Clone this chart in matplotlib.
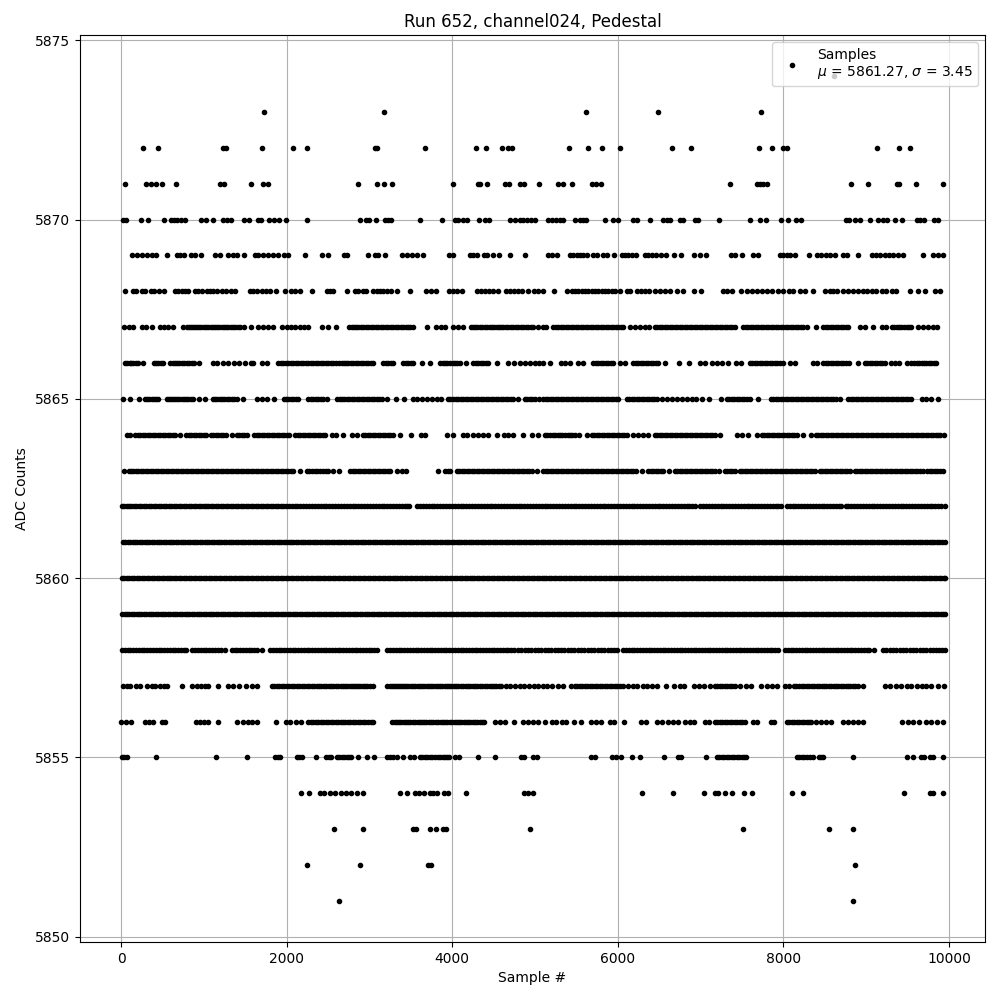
import matplotlib
matplotlib.use("Agg")
import matplotlib.pyplot as plt

# sample numbers, one list per ADC level
s5851 = [2636, 8843]
s5852 = [2250, 2890, 3703, 3743, 8867]
s5853 = [2576, 2926, 3522, 3562, 3731, 3800, 3884, 3924, 4943, 7515, 8553, 8843]
s5854 = [2178, 2274, 2403, 2451, 2524, 2584, 2653, 2717, 2773, 2854, 2926, 3373, 3457, 3550, 3602, 3659, 3731, 3763, 3820, 3900, 3952, 4170,
         4866, 4918, 4971, 6287, 6670, 7044, 7173, 7213, 7289, 7382, 7527, 7616, 8106, 8239, 9459, 9768, 9809, 9930]
s5855 = [12, 76, 427, 1151, 1521, 1860, 1920, 2121, 2181, 2355, 2475, 2532, 2604, 2665, 2725, 2773, 2866, 2966, 3059, 3208, 3280, 3328, 3409,
         3490, 3542, 3610, 3670, 3731, 3791, 3852, 3912, 3965, 4033, 4085, 4315, 4520, 4826, 4866, 4979, 5027, 5675, 5724, 5925, 5977, 6033,
         6174, 6271, 6561, 6730, 6758, 7068, 7201, 7253, 7314, 7374, 7434, 7495, 7547, 8159, 8219, 8280, 8352, 8433, 8481, 8843, 9495, 9567,
         9656, 9700, 9769, 9809, 9926,
         40, 1890, 2150, 2505, 2635, 2695, 2750, 3250, 3640, 3700, 3761, 3822, 3882, 3940, 7227, 7284, 7344, 7404, 7465, 7521, 8189, 8250, 8316, 8457]
s5856 = [4, 60, 117, 290, 342, 390, 491, 535, 906, 954, 1002, 1050, 1175, 1405, 1469, 1538, 1586, 1646, 1868, 1988, 2041, 2113, 2170, 2262,
         2320, 2380, 2440, 2500, 2560, 2620, 2680, 2740, 2800, 2860, 2920, 2980, 3047, 3276, 3330, 3385, 3440, 3495, 3550, 3610, 3660, 3715,
         3770, 3830, 3885, 3940, 4000, 4055, 4110, 4165, 4220, 4275, 4330, 4383, 4516, 4576, 4637, 4749, 4858, 4918, 4979, 5039, 5120, 5200,
         5253, 5321, 5374, 5474, 5558, 5675, 5736, 5792, 5905, 5953, 6074, 6279, 6335, 6468, 6529, 6609, 6670, 6730, 6811, 6871, 6920, 7052,
         7104, 7173, 7233, 7294, 7354, 7414, 7475, 7535, 7627, 7676, 7845, 7889, 8038, 8099, 8159, 8219, 8280, 8328, 8392, 8449, 8514, 8574,
         8714, 8783, 8843, 8903, 8956, 9427, 9507, 9567, 9640, 9728, 9788, 9857, 9930,
         2291, 2350, 2410, 2470, 2530, 2590, 2650, 2710, 2770, 2830, 2890, 2950, 3013, 3303, 3358, 3413, 3468, 3522, 3580, 3635, 3688, 3743,
         3800, 3858, 3912, 3970, 4028, 4083, 4138, 4192, 4248, 4303, 4356, 7203, 7264, 7324, 7384, 7445, 7505, 8069, 8129, 8189, 8250, 8304]
s5857 = [20, 68, 109, 181, 230, 318, 370, 411, 471, 519, 559, 732, 853, 914, 962, 1014, 1055, 1175, 1296, 1348, 1429, 1509, 1586, 1638, 1819,
         1880, 1940, 2000, 2060, 2120, 2180, 2240, 2300, 2360, 2420, 2480, 2540, 2590, 2650, 2700, 2760, 2810, 2860, 2920, 2975, 3039, 3216,
         3270, 3320, 3370, 3420, 3470, 3530, 3580, 3630, 3690, 3740, 3800, 3850, 3910, 3960, 4020, 4075, 4130, 4190, 4250, 4300, 4360, 4420,
         4480, 4530, 4590, 4650, 4700, 4760, 4820, 4870, 4930, 4990, 5040, 5100, 5140, 5200, 5281, 5341, 5430, 5483, 5543, 5600, 5660, 5720,
         5780, 5840, 5900, 5960, 6020, 6065, 6126, 6186, 6234, 6307, 6355, 6408, 6468, 6581, 6681, 6749, 6802, 6918, 6983, 7040, 7112, 7173,
         7233, 7290, 7350, 7410, 7475, 7547, 7603, 7728, 7797, 7857, 7917, 8018, 8071, 8127, 8190, 8250, 8310, 8370, 8430, 8490, 8550, 8610,
         8662, 8720, 8780, 8840, 8900, 8963, 9225, 9285, 9358, 9426, 9487, 9547, 9608, 9668, 9728, 9788, 9869, 9942,
         1850, 1910, 1970, 2030, 2090, 2150, 2210, 2270, 2330, 2390, 2450, 2510, 2565, 2620, 2675, 2730, 2785, 2835, 2890, 2947, 3007, 3243,
         3295, 3345, 3395, 3445, 3500, 3555, 3605, 3660, 3715, 3770, 3825, 3880, 3935, 3990, 4048, 4102, 4160, 4220, 4275, 4330, 4390, 4450,
         4505, 4560, 5510, 5570, 5630, 5690, 5750, 5810, 5870, 5930, 5990, 7203, 7262, 7320, 7380, 8158, 8220, 8280, 8340, 8400, 8460, 8520,
         8580, 8640, 8690, 8750, 8810, 8870]
s5858 = [10, 44, 78, 112, 146, 180, 214, 248, 282, 316, 350, 384, 418, 452, 486, 520, 554, 588, 622, 656, 690, 724, 758, 785, 861, 895, 929,
         963, 997, 1031, 1065, 1099, 1133, 1167, 1210, 1256, 1336, 1370, 1404, 1438, 1472, 1506, 1540, 1574, 1608, 1642, 1698, 1799, 1833, 1867,
         1901, 1935, 1969, 2003, 2037, 2071, 2105, 2139, 2173, 2207, 2241, 2275, 2309, 2343, 2377, 2411, 2445, 2479, 2513, 2547, 2581, 2615,
         2649, 2683, 2717, 2751, 2785, 2819, 2853, 2887, 2921, 2955, 2989, 3023, 3057, 3095, 3216, 3250, 3284, 3318, 3352, 3386, 3420, 3454,
         3488, 3522, 3556, 3590, 3624, 3658, 3692, 3726, 3760, 3794, 3828, 3862, 3896, 3930, 3964, 3998, 4032, 4066, 4100, 4134, 4168, 4202,
         4236, 4270, 4304, 4338, 4372, 4406, 4440, 4474, 4508, 4542, 4576, 4610, 4644, 4678, 4712, 4750, 4795, 4835, 4875, 4915, 4955, 4995,
         5035, 5075, 5115, 5155, 5195, 5235, 5275, 5315, 5355, 5395, 5435, 5475, 5515, 5555, 5595, 5635, 5675, 5715, 5755, 5795, 5835, 5875,
         5915, 5955, 5995, 6065, 6099, 6133, 6167, 6201, 6235, 6269, 6303, 6337, 6371, 6405, 6439, 6473, 6507, 6541, 6575, 6609, 6643, 6677,
         6711, 6745, 6779, 6813, 6847, 6881, 6915, 6949, 6983, 7017, 7051, 7085, 7119, 7153, 7187, 7221, 7255, 7289, 7323, 7357, 7391, 7425,
         7459, 7493, 7527, 7561, 7595, 7629, 7663, 7697, 7731, 7765, 7799, 7833, 7867, 7901, 7938, 8018, 8052, 8086, 8120, 8154, 8188, 8222,
         8256, 8290, 8324, 8358, 8392, 8426, 8460, 8494, 8528, 8562, 8596, 8630, 8664, 8698, 8732, 8766, 8800, 8834, 8868, 8902, 8936, 8970,
         9004, 9035, 9092, 9205, 9245, 9285, 9325, 9365, 9405, 9445, 9485, 9525, 9565, 9605, 9645, 9685, 9725, 9765, 9805, 9845, 9885, 9918,
         9950]
s5859 = [12, 41, 70, 99, 128, 157, 186, 215, 244, 273, 302, 331, 360, 389, 418, 447, 476, 505, 534, 563, 592, 621, 650, 679, 708, 737, 766,
         795, 824, 853, 882, 911, 940, 969, 998, 1027, 1056, 1085, 1114, 1143, 1172, 1201, 1230, 1259, 1288, 1317, 1346, 1375, 1404, 1433, 1462,
         1491, 1520, 1549, 1578, 1607, 1636, 1665, 1694, 1723, 1752, 1781, 1810, 1839, 1868, 1897, 1926, 1955, 1984, 2013, 2042, 2071, 2100,
         2129, 2158, 2187, 2216, 2245, 2274, 2303, 2332, 2361, 2390, 2419, 2448, 2477, 2506, 2535, 2564, 2593, 2622, 2651, 2680, 2709, 2738,
         2767, 2796, 2825, 2854, 2883, 2912, 2941, 2970, 2999, 3028, 3057, 3086, 3115, 3144, 3173, 3202, 3231, 3260, 3289, 3318, 3347, 3376,
         3405, 3434, 3463, 3492, 3521, 3550, 3579, 3608, 3637, 3666, 3695, 3724, 3753, 3782, 3811, 3840, 3869, 3898, 3927, 3956, 3985, 4014,
         4043, 4072, 4101, 4130, 4159, 4188, 4217, 4246, 4275, 4304, 4333, 4362, 4391, 4420, 4449, 4478, 4507, 4536, 4565, 4594, 4623, 4652,
         4681, 4710, 4739, 4768, 4797, 4826, 4855, 4884, 4913, 4942, 4971, 5000, 5029, 5058, 5087, 5116, 5145, 5174, 5203, 5232, 5261, 5290,
         5319, 5348, 5377, 5406, 5435, 5464, 5493, 5522, 5551, 5580, 5609, 5638, 5667, 5696, 5725, 5754, 5783, 5812, 5841, 5870, 5899, 5928,
         5957, 5986, 6015, 6044, 6073, 6102, 6131, 6160, 6189, 6218, 6247, 6276, 6305, 6334, 6363, 6392, 6421, 6450, 6479, 6508, 6537, 6566,
         6595, 6624, 6653, 6682, 6711, 6740, 6769, 6798, 6827, 6856, 6885, 6914, 6943, 6972, 7001, 7030, 7059, 7088, 7117, 7146, 7175, 7204,
         7233, 7262, 7291, 7320, 7349, 7378, 7407, 7436, 7465, 7494, 7523, 7552, 7581, 7610, 7639, 7668, 7697, 7726, 7755, 7784, 7813, 7842,
         7871, 7900, 7929, 7958, 7987, 8016, 8045, 8074, 8103, 8132, 8161, 8190, 8219, 8248, 8277, 8306, 8335, 8364, 8393, 8422, 8451, 8480,
         8509, 8538, 8567, 8596, 8625, 8654, 8683, 8712, 8741, 8770, 8799, 8828, 8857, 8886, 8915, 8944, 8973, 9002, 9031, 9060, 9089, 9118,
         9147, 9176, 9205, 9234, 9263, 9292, 9321, 9350, 9379, 9408, 9437, 9466, 9495, 9524, 9553, 9582, 9611, 9640, 9669, 9698, 9727, 9756,
         9785, 9814, 9843, 9872, 9901, 9930, 9955]
s5860 = [8, 38, 68, 98, 128, 158, 188, 218, 248, 278, 308, 338, 368, 398, 428, 458, 488, 518, 548, 578, 608, 638, 668, 698, 728, 758, 788,
         818, 848, 878, 908, 938, 968, 998, 1028, 1058, 1088, 1118, 1148, 1178, 1208, 1238, 1268, 1298, 1328, 1358, 1388, 1418, 1448, 1478,
         1508, 1538, 1568, 1598, 1628, 1658, 1688, 1718, 1748, 1778, 1808, 1838, 1868, 1898, 1928, 1958, 1988, 2018, 2048, 2078, 2108, 2138,
         2168, 2198, 2228, 2258, 2288, 2318, 2348, 2378, 2408, 2438, 2468, 2498, 2528, 2558, 2588, 2618, 2648, 2678, 2708, 2738, 2768, 2798,
         2828, 2858, 2888, 2918, 2948, 2978, 3008, 3038, 3068, 3098, 3128, 3158, 3188, 3218, 3248, 3278, 3308, 3338, 3368, 3398, 3428, 3458,
         3488, 3518, 3548, 3578, 3608, 3638, 3668, 3698, 3728, 3758, 3788, 3818, 3848, 3878, 3908, 3938, 3968, 3998, 4028, 4058, 4088, 4118,
         4148, 4178, 4208, 4238, 4268, 4298, 4328, 4358, 4388, 4418, 4448, 4478, 4508, 4538, 4568, 4598, 4628, 4658, 4688, 4718, 4748, 4778,
         4808, 4838, 4868, 4898, 4928, 4958, 4988, 5018, 5048, 5078, 5108, 5138, 5168, 5198, 5228, 5258, 5288, 5318, 5348, 5378, 5408, 5438,
         5468, 5498, 5528, 5558, 5588, 5618, 5648, 5678, 5708, 5738, 5768, 5798, 5828, 5858, 5888, 5918, 5948, 5978, 6008, 6038, 6068, 6098,
         6128, 6158, 6188, 6218, 6248, 6278, 6308, 6338, 6368, 6398, 6428, 6458, 6488, 6518, 6548, 6578, 6608, 6638, 6668, 6698, 6728, 6758,
         6788, 6818, 6848, 6878, 6908, 6938, 6968, 6998, 7028, 7058, 7088, 7118, 7148, 7178, 7208, 7238, 7268, 7298, 7328, 7358, 7388, 7418,
         7448, 7478, 7508, 7538, 7568, 7598, 7628, 7658, 7688, 7718, 7748, 7778, 7808, 7838, 7868, 7898, 7928, 7958, 7988, 8018, 8048, 8078,
         8108, 8138, 8168, 8198, 8228, 8258, 8288, 8318, 8348, 8378, 8408, 8438, 8468, 8498, 8528, 8558, 8588, 8618, 8648, 8678, 8708, 8738,
         8768, 8798, 8828, 8858, 8888, 8918, 8948, 8978, 9008, 9038, 9068, 9098, 9128, 9158, 9188, 9218, 9248, 9278, 9308, 9338, 9368, 9398,
         9428, 9458, 9488, 9518, 9548, 9578, 9608, 9638, 9668, 9698, 9728, 9758, 9788, 9818, 9848, 9878, 9908, 9935, 9955]
s5861 = [22, 51, 80, 109, 138, 167, 196, 225, 254, 283, 312, 341, 370, 399, 428, 457, 486, 515, 544, 573, 602, 631, 660, 689, 718, 747, 776,
         805, 834, 863, 892, 921, 950, 979, 1008, 1037, 1066, 1095, 1124, 1153, 1182, 1211, 1240, 1269, 1298, 1327, 1356, 1385, 1414, 1443,
         1472, 1501, 1530, 1559, 1588, 1617, 1646, 1675, 1704, 1733, 1762, 1791, 1820, 1849, 1878, 1907, 1936, 1965, 1994, 2023, 2052, 2081,
         2110, 2139, 2168, 2197, 2226, 2255, 2284, 2313, 2342, 2371, 2400, 2429, 2458, 2487, 2516, 2545, 2574, 2603, 2632, 2661, 2690, 2719,
         2748, 2777, 2806, 2835, 2864, 2893, 2922, 2951, 2980, 3009, 3038, 3067, 3096, 3125, 3154, 3183, 3212, 3241, 3270, 3299, 3328, 3357,
         3386, 3415, 3444, 3473, 3502, 3531, 3560, 3589, 3618, 3647, 3676, 3705, 3734, 3763, 3792, 3821, 3850, 3879, 3908, 3937, 3966, 3995,
         4024, 4053, 4082, 4111, 4140, 4169, 4198, 4227, 4256, 4285, 4314, 4343, 4372, 4401, 4430, 4459, 4488, 4517, 4546, 4575, 4604, 4633,
         4662, 4691, 4720, 4749, 4778, 4807, 4836, 4865, 4894, 4923, 4952, 4981, 5010, 5039, 5068, 5097, 5126, 5155, 5184, 5213, 5242, 5271,
         5300, 5329, 5358, 5387, 5416, 5445, 5474, 5503, 5532, 5561, 5590, 5619, 5648, 5677, 5706, 5735, 5764, 5793, 5822, 5851, 5880, 5909,
         5938, 5967, 5996, 6025, 6054, 6083, 6112, 6141, 6170, 6199, 6228, 6257, 6286, 6315, 6344, 6373, 6402, 6431, 6460, 6489, 6518, 6547,
         6576, 6605, 6634, 6663, 6692, 6721, 6750, 6779, 6808, 6837, 6866, 6895, 6924, 6953, 6982, 7011, 7040, 7069, 7098, 7127, 7156, 7185,
         7214, 7243, 7272, 7301, 7330, 7359, 7388, 7417, 7446, 7475, 7504, 7533, 7562, 7591, 7620, 7649, 7678, 7707, 7736, 7765, 7794, 7823,
         7852, 7881, 7910, 7939, 7968, 7997, 8026, 8055, 8084, 8113, 8142, 8171, 8200, 8229, 8258, 8287, 8316, 8345, 8374, 8403, 8432, 8461,
         8490, 8519, 8548, 8577, 8606, 8635, 8664, 8693, 8722, 8751, 8780, 8809, 8838, 8867, 8896, 8925, 8954, 8983, 9012, 9041, 9070, 9099,
         9128, 9157, 9186, 9215, 9244, 9273, 9302, 9331, 9360, 9389, 9418, 9447, 9476, 9505, 9534, 9563, 9592, 9621, 9650, 9679, 9708, 9737,
         9766, 9795, 9824, 9853, 9882, 9911, 9950]
s5862 = [5, 35, 65, 95, 125, 155, 185, 215, 245, 275, 305, 335, 365, 395, 425, 455, 485, 515, 545, 575, 605, 635, 665, 695, 725, 755, 785,
         815, 845, 875, 905, 935, 965, 995, 1025, 1055, 1085, 1115, 1145, 1175, 1205, 1235, 1265, 1295, 1325, 1355, 1385, 1415, 1445, 1475,
         1505, 1535, 1565, 1595, 1625, 1655, 1685, 1715, 1745, 1775, 1805, 1835, 1865, 1895, 1925, 1955, 1990, 2025, 2060, 2095, 2130, 2165,
         2200, 2235, 2270, 2305, 2340, 2375, 2410, 2445, 2480, 2515, 2550, 2585, 2620, 2655, 2690, 2725, 2760, 2795, 2830, 2865, 2900, 2935,
         2970, 3005, 3040, 3075, 3110, 3145, 3180, 3215, 3250, 3285, 3320, 3355, 3390, 3425, 3455, 3480, 3575, 3610, 3645, 3680, 3715, 3750,
         3785, 3820, 3855, 3890, 3925, 3960, 3995, 4030, 4065, 4100, 4135, 4170, 4205, 4240, 4275, 4310, 4345, 4380, 4415, 4450, 4485, 4520,
         4555, 4590, 4625, 4660, 4695, 4730, 4765, 4800, 4835, 4870, 4905, 4940, 4975, 5010, 5045, 5080, 5115, 5150, 5185, 5220, 5255, 5290,
         5325, 5360, 5395, 5430, 5465, 5500, 5535, 5570, 5605, 5640, 5675, 5710, 5745, 5780, 5815, 5850, 5885, 5920, 5955, 5990, 6025, 6060,
         6095, 6130, 6165, 6200, 6235, 6270, 6305, 6340, 6375, 6410, 6445, 6480, 6515, 6550, 6585, 6620, 6655, 6690, 6725, 6760, 6795, 6830,
         6865, 6900, 6930, 6995, 7030, 7065, 7100, 7135, 7170, 7205, 7240, 7275, 7310, 7345, 7380, 7415, 7450, 7485, 7520, 7555, 7590, 7625,
         7660, 7695, 7730, 7765, 7800, 7835, 7870, 7905, 7940, 7970, 8040, 8075, 8110, 8145, 8180, 8215, 8250, 8285, 8320, 8355, 8390, 8425,
         8460, 8495, 8530, 8565, 8600, 8635, 8670, 8700, 8750, 8785, 8820, 8855, 8890, 8925, 8960, 8995, 9030, 9065, 9100, 9135, 9170, 9205,
         9240, 9275, 9310, 9345, 9380, 9415, 9450, 9485, 9520, 9555, 9590, 9625, 9660, 9695, 9730, 9765, 9800, 9835, 9870, 9905, 9950]
s5863 = [36, 89, 149, 209, 270, 330, 390, 451, 511, 571, 632, 692, 753, 813, 873, 934, 994, 1055, 1115, 1175, 1236, 1296, 1356, 1417, 1477,
         1538, 1598, 1658, 1719, 1779, 1839, 1900, 1960, 2021, 2081, 2161, 2242, 2302, 2371, 2435, 2504, 2564, 2636, 2765, 2826, 2886, 2946,
         3007, 3067, 3127, 3188, 3248, 3329, 3389, 3441, 3832, 3912, 3973, 4053, 4114, 4174, 4234, 4295, 4355, 4415, 4476, 4536, 4596, 4657,
         4717, 4778, 4838, 4898, 4958, 5019, 5100, 5160, 5220, 5281, 5341, 5402, 5462, 5523, 5583, 5643, 5704, 5764, 5824, 5885, 5945, 6005,
         6065, 6126, 6186, 6218, 6287, 6367, 6428, 6488, 6549, 6622, 6690, 6750, 6811, 6871, 6932, 6992, 7052, 7113, 7173, 7225, 7294, 7354,
         7414, 7475, 7535, 7595, 7656, 7716, 7776, 7837, 7897, 7958, 8018, 8078, 8139, 8199, 8259, 8320, 8380, 8441, 8501, 8561, 8621, 8682,
         8742, 8802, 8863, 8923, 8984, 9044, 9104, 9165, 9225, 9285, 9346, 9406, 9467, 9527, 9587, 9648, 9688, 9768, 9829, 9889, 9930,
         119, 179, 240, 300, 360, 421, 481, 541, 602, 662, 723, 783, 843, 904, 964, 1025, 1085, 1145, 1206, 1266, 1326, 1387, 1447, 1508, 1568,
         1628, 1689, 1749, 1809, 1870, 1930, 1990, 2051, 2272, 2336, 2403, 2470, 2796, 2856, 2916, 2977, 3037, 3097, 3158, 3218, 3943, 4084,
         4144, 4204, 4265, 4325, 4385, 4446, 4506, 4566, 4627, 4687, 4748, 4808, 4868, 4928, 5130, 5190, 5250, 5311, 5372, 5432, 5492, 5553,
         5613, 5673, 5734, 5794, 5855, 5915, 5975, 6035, 6095, 6156, 6398, 6458, 6518, 6720, 6780, 6841, 6901, 6962, 7022, 7082, 7143, 7324,
         7384, 7505, 7565, 7625, 7686, 7746, 7806, 7867, 7927, 7988, 8048, 8108, 8169, 8229, 8289, 8350, 8471, 8531, 8591, 8651, 8712, 8772,
         8893, 8953, 9014, 9074, 9134, 9195, 9255, 9315, 9376, 9436, 9497, 9557, 9617, 9738, 9798, 9859]
s5864 = [68, 109, 169, 230, 290, 350, 411, 471, 531, 592, 652, 713, 785, 845, 906, 966, 1026, 1083, 1143, 1203, 1264, 1336, 1397, 1457, 1518,
         1606, 1666, 1727, 1787, 1847, 1908, 1968, 2029, 2101, 2161, 2222, 2282, 2342, 2403, 2463, 2544, 2596, 2685, 2785, 2846, 2918, 2979,
         3039, 3099, 3160, 3220, 3280, 3369, 3506, 3618, 3675, 3933, 4013, 4134, 4174, 4254, 4315, 4375, 4435, 4544, 4625, 4677, 4738, 4858,
         4959, 5039, 5120, 5180, 5241, 5301, 5362, 5422, 5482, 5534, 5623, 5684, 5744, 5804, 5864, 5925, 5985, 6045, 6106, 6179, 6247, 6307,
         6367, 6448, 6509, 6569, 6630, 6690, 6750, 6811, 6871, 6932, 6992, 7052, 7113, 7173, 7233, 7434, 7495, 7575, 7676, 7736, 7797, 7857,
         7917, 7978, 8038, 8099, 8159, 8231, 8332, 8392, 8453, 8513, 8573, 8634, 8694, 8755, 8815, 8875, 8936, 8996, 9056, 9117, 9177, 9238,
         9298, 9358, 9419, 9479, 9539, 9600, 9660, 9720, 9781, 9841, 9897, 9938,
         199, 260, 320, 380, 441, 501, 561, 622, 815, 875, 936, 996, 1113, 1173, 1233, 1427, 1487, 1636, 1696, 1757, 1817, 1877, 1938, 1998, 2131,
         2191, 2252, 2312, 2372, 2433, 2948, 3009, 3069, 3129, 3190, 3250, 5150, 5211, 5271, 5331, 5392, 5452, 5714, 5774, 5834, 5895, 5955,
         6015, 6075, 6477, 6539, 6599, 6660, 6720, 6780, 6841, 6901, 6962, 7022, 7082, 7143, 7766, 7827, 7887, 7948, 8008, 8068, 8129, 8422,
         8483, 8543, 8603, 8664, 8724, 8785, 8845, 8905, 8966, 9026, 9086, 9147, 9207, 9268, 9328, 9388, 9449, 9509, 9569, 9630, 9690, 9750,
         9811, 9869]
s5865 = [20, 109, 221, 290, 342, 399, 451, 551, 600, 652, 704, 761, 813, 873, 946, 1007, 1107, 1163, 1216, 1276, 1336, 1397, 1477, 1638, 1699,
         1759, 1847, 1968, 2021, 2081, 2141, 2262, 2322, 2383, 2443, 2492, 2612, 2665, 2725, 2785, 2846, 2906, 2966, 3027, 3087, 3147, 3216,
         3324, 3413, 3522, 3578, 3630, 3691, 3751, 3812, 3864, 3945, 4005, 4073, 4134, 4194, 4254, 4315, 4375, 4435, 4496, 4556, 4617, 4677,
         4738, 4794, 4878, 4938, 4999, 5051, 5100, 5160, 5220, 5281, 5341, 5402, 5462, 5523, 5583, 5643, 5704, 5764, 5824, 5885, 5945, 6005,
         6106, 6166, 6226, 6287, 6347, 6408, 6468, 6529, 6589, 6650, 6710, 6771, 6831, 6892, 6943, 7016, 7104, 7241, 7314, 7374, 7434, 7495,
         7555, 7595, 7692, 7845, 7905, 7966, 8026, 8087, 8147, 8207, 8268, 8328, 8388, 8449, 8509, 8569, 8630, 8682, 8783, 8843, 8903, 8963,
         9024, 9084, 9144, 9205, 9265, 9326, 9386, 9446, 9507, 9547, 9668, 9728, 9788, 9869,
         316, 370, 425, 576, 626, 678, 732, 787, 843, 1135, 1189, 1246, 1306, 1366, 1995, 2051, 2111, 2292, 2352, 2413, 2638, 2695, 2755, 2815,
         2876, 2936, 2996, 3057, 3117, 3975, 4039, 4103, 4164, 4224, 4284, 4345, 4405, 4465, 4526, 4586, 4647, 4707, 4908, 4968, 5130, 5190,
         5250, 5311, 5372, 5432, 5492, 5553, 5613, 5673, 5734, 5794, 5855, 5915, 5975, 6136, 6196, 6257, 6317, 6377, 6438, 7344, 7404, 7465,
         7525, 7875, 7935, 7996, 8056, 8117, 8177, 8237, 8298, 8358, 8418, 8479, 8539, 8599, 8813, 8873, 8933, 8993, 9054, 9114, 9174, 9235,
         9295, 9356, 9416, 9476]
s5866 = [48, 101, 149, 209, 270, 399, 451, 503, 592, 652, 704, 761, 825, 881, 946, 1107, 1163, 1228, 1296, 1368, 1429, 1497, 1566, 1598, 1699,
         1759, 1900, 1960, 2021, 2081, 2141, 2202, 2262, 2322, 2383, 2443, 2504, 2564, 2636, 2693, 2745, 2805, 2866, 2926, 2987, 3047, 3168,
         3228, 3288, 3409, 3470, 3530, 3630, 3731, 3852, 3912, 3973, 4033, 4093, 4166, 4254, 4315, 4375, 4435, 4536, 4669, 4749, 4818, 4878,
         4938, 4999, 5051, 5100, 5180, 5309, 5362, 5422, 5523, 5583, 5704, 5764, 5824, 5885, 5945, 6025, 6086, 6186, 6247, 6307, 6367, 6428,
         6488, 6569, 6738, 6859, 6992, 7052, 7133, 7193, 7253, 7334, 7426, 7483, 7595, 7656, 7716, 7776, 7837, 7897, 7958, 7998, 8079, 8139,
         8352, 8401, 8481, 8541, 8602, 8662, 8723, 8795, 8895, 8983, 9044, 9104, 9165, 9225, 9294, 9346, 9398, 9495, 9547, 9608, 9668, 9728,
         9788, 9849,
         75, 125, 179, 425, 477, 622, 678, 732, 793, 853, 1930, 1990, 2051, 2111, 2171, 2232, 2292, 2352, 2413, 2473, 2534, 2600, 2665, 2719,
         2775, 2836, 2896, 2956, 3017, 3198, 3258, 3439, 3500, 3882, 3942, 4003, 4063, 4285, 4345, 4405, 5734, 5794, 5855, 5915, 6216, 6277,
         6337, 6398, 6458, 7626, 7686, 7746, 7807, 7867, 7928, 8511, 8572, 8632, 8692, 8759, 9014, 9074, 9135, 9195, 9577, 9638, 9698, 9758, 9819]
s5867 = [36, 89, 141, 250, 302, 370, 471, 519, 571, 624, 744, 793, 841, 894, 946, 995, 1055, 1107, 1155, 1216, 1268, 1324, 1377, 1437, 1485,
         1566, 1658, 1711, 1779, 1839, 1940, 2000, 2049, 2101, 2161, 2209, 2262, 2431, 2504, 2600, 2757, 2813, 2866, 2926, 2987, 3047, 3107,
         3160, 3228, 3288, 3349, 3409, 3470, 3522, 3691, 3804, 3860, 3912, 4013, 4073, 4134, 4222, 4274, 4335, 4395, 4456, 4504, 4568, 4617,
         4677, 4738, 4798, 4858, 4918, 4979, 5039, 5100, 5132, 5220, 5281, 5341, 5402, 5462, 5523, 5583, 5643, 5704, 5764, 5824, 5885, 5945,
         6005, 6065, 6146, 6206, 6267, 6327, 6379, 6448, 6509, 6569, 6630, 6690, 6750, 6811, 6871, 6932, 6992, 7052, 7113, 7173, 7233, 7294,
         7354, 7414, 7515, 7575, 7636, 7696, 7756, 7817, 7877, 7938, 7998, 8058, 8119, 8179, 8239, 8287, 8392, 8481, 8541, 8602, 8662, 8723,
         8783, 8931, 8983, 9084, 9185, 9237, 9306, 9366, 9426, 9487, 9547, 9628, 9688, 9748, 9809, 9857,
         817, 867, 920, 970, 1025, 1081, 1131, 1185, 1242, 1296, 1350, 1407, 2785, 2839, 2896, 2956, 3017, 3077, 3133, 3194, 3258, 3318, 3379,
         3440, 3495, 4245, 4304, 4365, 4425, 4480, 4536, 4592, 4647, 4707, 4768, 4828, 4888, 4948, 5250, 5311, 5372, 5432, 5492, 5553, 5613,
         5673, 5734, 5794, 5855, 5915, 5975, 6035, 6478, 6539, 6599, 6660, 6720, 6780, 6841, 6901, 6962, 7022, 7082, 7143, 7203, 7263, 7324,
         7384, 7545, 7605, 7666, 7726, 7786, 7847, 7907, 7968, 8028, 8088, 8149, 8209, 8511, 8572, 8632, 8692, 8753, 9336, 9396, 9456, 9517]
s5868 = [52, 149, 181, 250, 290, 358, 398, 463, 519, 652, 692, 733, 773, 813, 894, 934, 974, 1034, 1075, 1115, 1163, 1215, 1268, 1324, 1381,
         1558, 1598, 1646, 1699, 1751, 1799, 1868, 1984, 2049, 2101, 2161, 2310, 2483, 2524, 2564, 2733, 2826, 2866, 2926, 2958, 3039, 3087,
         3127, 3168, 3208, 3260, 3329, 3494, 3683, 3743, 3804, 3965, 4013, 4053, 4122, 4295, 4343, 4395, 4448, 4496, 4556, 4649, 4697, 4749,
         4797, 4838, 4910, 4987, 5039, 5100, 5229, 5390, 5442, 5482, 5522, 5563, 5603, 5643, 5684, 5724, 5764, 5804, 5844, 5885, 5925, 5965,
         6025, 6106, 6146, 6226, 6279, 6327, 6376, 6448, 6509, 6569, 6630, 6710, 6783, 6923, 6999, 7273, 7314, 7382, 7483, 7555, 7615, 7676,
         7736, 7797, 7857, 7938, 7998, 8071, 8119, 8199, 8260, 8360, 8501, 8562, 8602, 8642, 8723, 8783, 8835, 8903, 8963, 9004, 9064, 9124,
         9185, 9245, 9306, 9358, 9527, 9628, 9716, 9829, 9897]
s5869 = [129, 189, 250, 310, 370, 423, 559, 672, 713, 761, 841, 894, 962, 1135, 1195, 1296, 1348, 1397, 1489, 1618, 1658, 1719, 1779, 1839,
         1900, 1968, 2021, 2222, 2423, 2504, 2693, 2733, 2987, 3067, 3107, 3188, 3389, 3449, 3510, 3578, 3643, 3965, 4005, 4214, 4254, 4295,
         4383, 4423, 4488, 4568, 4701, 4878, 5160, 5200, 5261, 5422, 5462, 5502, 5542, 5583, 5631, 5704, 5744, 5816, 5864, 5953, 6045, 6086,
         6126, 6166, 6218, 6327, 6367, 6408, 6460, 6517, 6581, 6677, 6758, 6923, 6992, 7060, 7366, 7414, 7502, 7627, 7696, 7958, 7998, 8039,
         8079, 8139, 8312, 8401, 8449, 8514, 8562, 8622, 8714, 8771, 8903, 9076, 9124, 9165, 9225, 9277, 9326, 9386, 9446, 9688, 9809, 9869,
         9930]
s5870 = [20, 56, 241, 322, 523, 600, 640, 680, 720, 773, 962, 1026, 1107, 1236, 1284, 1328, 1489, 1550, 1658, 1691, 1791, 1847, 1904, 1996,
         2242, 2890, 2958, 2999, 3079, 3188, 3228, 3260, 3614, 3876, 4033, 4073, 4134, 4174, 4327, 4395, 4448, 4701, 4762, 4818, 4858, 4898,
         4947, 4999, 5160, 5200, 5253, 5301, 5341, 5482, 5542, 5583, 5615, 5848, 5945, 6005, 6186, 6226, 6392, 6541, 6590, 6630, 6751, 6791,
         6932, 6972, 7225, 7591, 7716, 7789, 7966, 8054, 8147, 8207, 8754, 8794, 8862, 8923, 9040, 9145, 9197, 9246, 9346, 9427, 9608, 9648,
         9704, 9817, 9869]
s5871 = [52, 296, 356, 427, 499, 668, 1195, 1244, 1574, 1715, 1779, 2866, 3095, 3180, 3276, 4013, 4307, 4339, 4424, 4633, 4689, 4818, 4866,
         5051, 5281, 5341, 5450, 5692, 5732, 5796, 7358, 7676, 7716, 7756, 7805, 8819, 9024, 9366, 9398, 9604, 9930]
s5872 = [270, 451, 1236, 1268, 1707, 2081, 2242, 3063, 3095, 3675, 4291, 4403, 4605, 4677, 4717, 5413, 5643, 5812, 6030, 6657, 6887, 7708,
         7857, 7998, 8046, 9133, 9398, 9531]
s5873 = [1731, 3180, 5611, 6488, 7732]
s5874 = [8613]

levels = [5851, 5852, 5853, 5854, 5855, 5856, 5857, 5858, 5859, 5860, 5861, 5862, 5863, 5864, 5865, 5866, 5867, 5868, 5869, 5870, 5871, 5872, 5873, 5874]
samples = [s5851, s5852, s5853, s5854, s5855, s5856, s5857, s5858, s5859, s5860, s5861, s5862, s5863, s5864, s5865, s5866, s5867, s5868, s5869, s5870, s5871, s5872, s5873, s5874]

x = []
y = []
for lvl, s in zip(levels, samples):
    x += s
    y += [lvl] * len(s)

fig, ax = plt.subplots(figsize=(10, 10))
ax.plot(x, y, '.', color='black', label='Samples\n$\\mu$ = 5861.27, $\\sigma$ = 3.45')
ax.set_xlim(-497, 10435)
ax.set_title('Run 652, channel024, Pedestal')
ax.set_xlabel('Sample #')
ax.set_ylabel('ADC Counts')
ax.grid(True)
ax.legend(loc='upper right')
fig.subplots_adjust(left=0.08, right=0.985, top=0.965, bottom=0.058)
plt.savefig('out.png', dpi=100)
